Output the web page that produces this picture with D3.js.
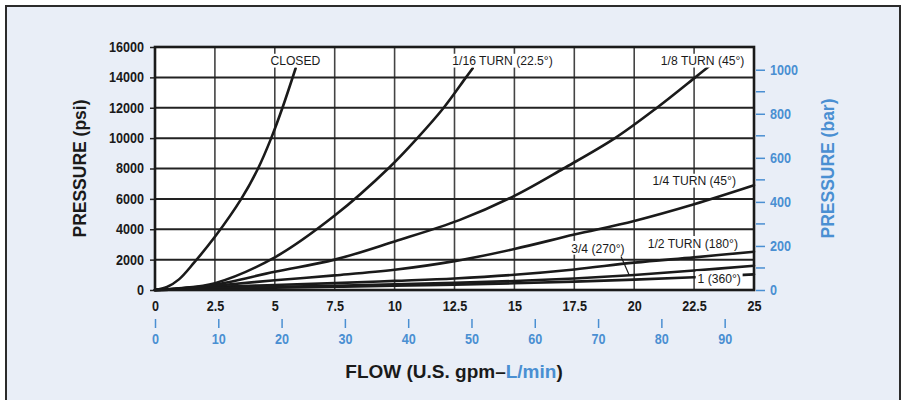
<!DOCTYPE html>
<html>
<head>
<meta charset="utf-8">
<script src="https://cdn.jsdelivr.net/npm/d3@7"></script>
<style>
  html, body { margin: 0; padding: 0; background: #fff; }
  svg { display: block; }
  text { font-family: 'Liberation Sans', Arial, sans-serif; }
</style>
</head>
<body>
<svg id="chart" width="907" height="400"></svg>
<script>
// flow in U.S. gpm, pressure in psi
var closedPts  = [[0,0],[0.5,200],[1,700],[1.63,1800],[2.5,3500],[3.6,6000],[4.3,8000],[4.85,10000],[5.32,12000],[5.87,14600]]
var turn16Pts  = [[0,0],[1,120],[2.5,450],[5,2150],[7.5,4900],[9.8,8100],[10.95,10000],[12.05,12000],[12.98,14000],[13.26,14600]]
var turn8Pts   = [[0,0],[1,100],[2.5,350],[5,1200],[7.5,2000],[10,3200],[12.7,4600],[15,6200],[17.05,8000],[19.2,10000],[20.95,12000],[22.55,14000],[23.1,14700]]
var turn4Pts   = [[0,0],[1,80],[2.5,280],[5,640],[7.5,960],[10,1330],[12.5,1900],[15,2700],[17.5,3650],[20,4550],[22.5,5650],[25,6900]]
var turn2Pts   = [[0,0],[1,60],[2.5,200],[5,330],[7.5,450],[10,600],[12.5,760],[15,1000],[17.5,1350],[20,1800],[22.5,2150],[25,2520]]
var turn34Pts  = [[0,0],[1,45],[2.5,150],[5,210],[7.5,280],[10,370],[12.5,470],[15,590],[17.5,760],[20,990],[22.5,1280],[25,1600]]
var turn1Pts   = [[0,0],[1,35],[2.5,110],[5,150],[7.5,210],[10,280],[12.5,350],[15,440],[17.5,550],[20,680],[22.5,840],[25,1030]]

var gpmTicks  = [0, 2.5, 5, 7.5, 10, 12.5, 15, 17.5, 20, 22.5, 25]
var lpmTicks  = [0, 10, 20, 30, 40, 50, 60, 70, 80, 90]
var psiTicks  = [0, 2000, 4000, 6000, 8000, 10000, 12000, 14000, 16000]
var barMajor  = [0, 200, 400, 600, 800, 1000]
var barMinor  = [100, 300, 500, 700, 900]

// curve labels: text, right end anchor (gpm, psi)
var labelText = ["CLOSED", "1/16 TURN (22.5°)", "1/8 TURN (45°)", "1/4 TURN (45°)", "1/2 TURN (180°)", "3/4 (270°)", "1 (360°)"]
var labelAt   = [[6.9,15100],[16.6,15100],[24.6,15100],[24.25,7200],[24.33,3100],[19.6,2780],[24.45,780]]

var LPM_PER_GPM = 3.78541
var PSI_PER_BAR = 14.5038
var blue = "#4a8fd2"
var squeeze = 0.9

var svg = d3.select("#chart")
var pL = 155, pR = 754, pT = 47, pB = 290

var x = d3.scaleLinear().domain([0, 25]).range([pL, pR])
var y = d3.scaleLinear().domain([0, 16000]).range([pB, pT])
var xl = d3.scaleLinear().domain([0, 25 * LPM_PER_GPM]).range([pL, pR])
var yb = d3.scaleLinear().domain([0, 16000 / PSI_PER_BAR]).range([pB, pT])

// condensed look for tick text: squeeze horizontally around its own x
function narrow(sel) {
    sel.each(function() {
        var t = d3.select(this)
        t.attr("x", (+t.attr("x") || 0) / squeeze).attr("transform", "scale(" + squeeze + ",1)")
    })
}

// panel
svg.append("rect").attr("x", 6).attr("y", 6).attr("width", 894).attr("height", 410)
    .attr("fill", "#e9eef7").attr("stroke", "#2b2b2b").attr("stroke-width", 2)

svg.append("rect").attr("x", pL).attr("y", pT).attr("width", pR - pL).attr("height", pB - pT)
    .attr("fill", "#fff")

// grid
svg.append("g").selectAll("line").data(gpmTicks.slice(1, -1)).join("line")
    .attr("x1", d => x(d)).attr("x2", d => x(d))
    .attr("y1", pT).attr("y2", pB)
    .attr("stroke", "#444").attr("stroke-width", 1.6)

svg.append("g").selectAll("line").data(psiTicks.slice(1, -1)).join("line")
    .attr("x1", pL).attr("x2", pR)
    .attr("y1", d => y(d)).attr("y2", d => y(d))
    .attr("stroke", "#222").attr("stroke-width", 2)

// left axis
var yAxis = svg.append("g").attr("transform", "translate(" + pL + ",0)")
    .call(d3.axisLeft(y).tickValues(psiTicks).tickFormat(d3.format("d")).tickSize(5).tickPadding(6))
yAxis.select(".domain").remove()
yAxis.selectAll("line").attr("stroke", "#222").attr("stroke-width", 1.5)
yAxis.selectAll("text").attr("font-size", 14).attr("font-weight", "bold").attr("fill", "#1a1a1a").call(narrow)

// bottom gpm labels
var xAxis = svg.append("g").attr("transform", "translate(0," + pB + ")")
    .call(d3.axisBottom(x).tickValues(gpmTicks).tickFormat(d => d).tickSize(0).tickPadding(11))
xAxis.select(".domain").remove()
xAxis.selectAll("text").attr("font-size", 14).attr("font-weight", "bold").attr("fill", "#1a1a1a").call(narrow)

// bottom L/min axis
var lAxis = svg.append("g").attr("transform", "translate(0,319)")
    .call(d3.axisBottom(xl).tickValues(lpmTicks).tickSize(9).tickPadding(6))
lAxis.select(".domain").remove()
lAxis.selectAll("line").attr("stroke", blue).attr("stroke-width", 1.5)
lAxis.selectAll("text").attr("font-size", 14).attr("font-weight", "bold").attr("fill", blue).call(narrow)

// right bar axis
var rAxis = svg.append("g").attr("transform", "translate(" + (pR + 2) + ",0)")
    .call(d3.axisRight(yb).tickValues(barMajor).tickFormat(d3.format("d")).tickSize(9).tickPadding(5))
rAxis.select(".domain").remove()
rAxis.selectAll("line").attr("stroke", blue).attr("stroke-width", 1.5)
rAxis.selectAll("text").attr("font-size", 14).attr("font-weight", "bold").attr("fill", blue).call(narrow)
svg.append("g").selectAll("line").data(barMinor).join("line")
    .attr("x1", pR + 2).attr("x2", pR + 11)
    .attr("y1", d => yb(d)).attr("y2", d => yb(d))
    .attr("stroke", blue).attr("stroke-width", 1.5)

// curves
var line = d3.line().x(d => x(d[0])).y(d => y(d[1])).curve(d3.curveCatmullRom.alpha(0.5))
var series = [closedPts, turn16Pts, turn8Pts, turn4Pts, turn2Pts, turn34Pts, turn1Pts]
svg.append("g").selectAll("path").data(series).join("path")
    .attr("d", line)
    .attr("fill", "none").attr("stroke", "#1a1a1a").attr("stroke-width", 2.6)
    .attr("stroke-linecap", "round")

// leader for 3/4
svg.append("line")
    .attr("x1", x(19.45)).attr("y1", y(2200)).attr("x2", x(19.8)).attr("y2", y(960))
    .attr("stroke", "#1a1a1a").attr("stroke-width", 1.2)

// curve labels with white knock-out
var lab = svg.append("g").selectAll("g").data(labelText).join("g")
    .attr("transform", (d, i) => "translate(" + x(labelAt[i][0]) + "," + y(labelAt[i][1]) + ") scale(" + squeeze + ",1)")
lab.append("text")
    .attr("text-anchor", "end").attr("dy", "0.35em")
    .attr("font-size", 13.5).attr("fill", "#1a1a1a")
    .text(d => d)
lab.each(function() {
    var g = d3.select(this), b = g.select("text").node().getBBox()
    g.insert("rect", "text").attr("x", b.x - 2).attr("y", b.y + 1).attr("width", b.width + 4).attr("height", b.height - 2)
        .attr("fill", "#fff")
})

// plot frame
svg.append("rect").attr("x", pL).attr("y", pT).attr("width", pR - pL).attr("height", pB - pT)
    .attr("fill", "none").attr("stroke", "#1a1a1a").attr("stroke-width", 2.6)

// titles
svg.append("text")
    .attr("transform", "translate(86," + ((pT + pB) / 2) + ") rotate(-90)")
    .attr("text-anchor", "middle")
    .attr("font-size", 17.5).attr("font-weight", "bold").attr("fill", "#1a1a1a")
    .text("PRESSURE (psi)")

svg.append("text")
    .attr("transform", "translate(834," + ((pT + pB) / 2) + ") rotate(-90)")
    .attr("text-anchor", "middle")
    .attr("font-size", 17.5).attr("font-weight", "bold").attr("fill", blue)
    .text("PRESSURE (bar)")

var ft = svg.append("text").attr("x", 454).attr("y", 378)
    .attr("text-anchor", "middle")
    .attr("font-size", 19).attr("font-weight", "bold").attr("fill", "#1a1a1a")
ft.append("tspan").text("FLOW (U.S. gpm\u2013")
ft.append("tspan").attr("fill", blue).text("L/min")
ft.append("tspan").text(")")
</script>
</body>
</html>
